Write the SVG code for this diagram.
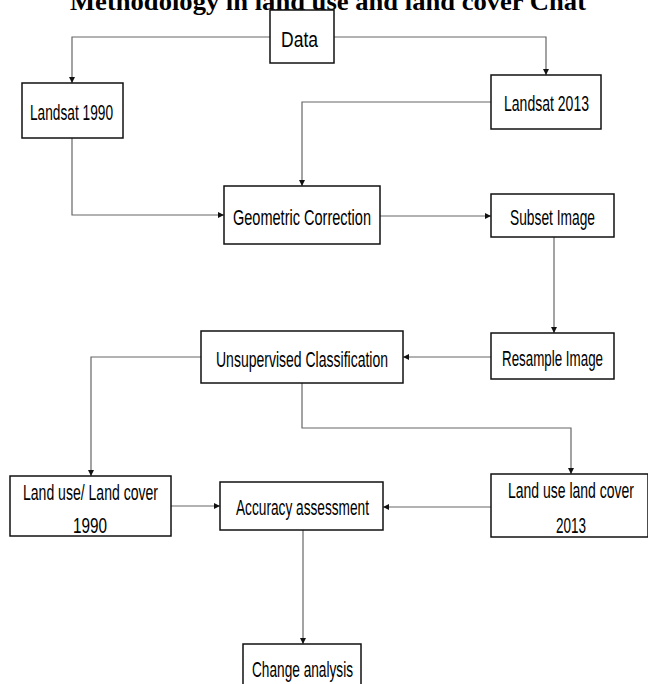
<svg xmlns="http://www.w3.org/2000/svg" width="648" height="684" viewBox="0 0 648 684">
<style>
.bg{fill:#fff}
.box{fill:#fff;stroke:#111;stroke-width:1.5}
.lbl{font-family:"Liberation Sans Narrow","Liberation Sans",Arial,sans-serif;font-size:22px;fill:#000}
.title{font-family:"Liberation Serif","Times New Roman",serif;font-size:26px;font-weight:bold;fill:#000}
.con{fill:none;stroke:#666;stroke-width:1.2;marker-end:url(#ah)}
</style>
<defs>
<marker id="ah" markerUnits="userSpaceOnUse" markerWidth="7" markerHeight="7" refX="6" refY="3" orient="auto">
<path d="M0,0 L6,3 L0,6 z" fill="#111"/>
</marker>
</defs>
<rect class="bg" x="0" y="0" width="648" height="684"/>
<text class="title" x="70" y="10" textLength="516" lengthAdjust="spacingAndGlyphs">Methodology in land use and land cover Chat</text>
<g id="connectors">
<path class="con" d="M270,37 H72 V83"/>
<path class="con" d="M334,37 H546 V75"/>
<path class="con" d="M72,138 V215 H224"/>
<path class="con" d="M491,102 H302 V186"/>
<path class="con" d="M380,216 H491"/>
<path class="con" d="M554,237 V333"/>
<path class="con" d="M491,357 H403"/>
<path class="con" d="M201,357 H91 V476"/>
<path class="con" d="M302,383 V428 H571 V474"/>
<path class="con" d="M171,506 H220"/>
<path class="con" d="M491,507 H383"/>
<path class="con" d="M303,530 V644"/>
</g>
<g id="data"><rect class="box" x="270" y="10" width="64" height="53"/><text class="lbl" x="281" y="47" textLength="37" lengthAdjust="spacingAndGlyphs">Data</text></g>
<g id="landsat1990"><rect class="box" x="22" y="83" width="101" height="55"/><text class="lbl" x="30" y="120" textLength="83" lengthAdjust="spacingAndGlyphs">Landsat 1990</text></g>
<g id="landsat2013"><rect class="box" x="491" y="75" width="110" height="54"/><text class="lbl" x="504" y="111" textLength="85" lengthAdjust="spacingAndGlyphs">Landsat 2013</text></g>
<g id="geometric"><rect class="box" x="224" y="186" width="156" height="58"/><text class="lbl" x="233" y="225" textLength="138" lengthAdjust="spacingAndGlyphs">Geometric Correction</text></g>
<g id="subset"><rect class="box" x="491" y="194" width="123" height="43"/><text class="lbl" x="510" y="225" textLength="85" lengthAdjust="spacingAndGlyphs">Subset Image</text></g>
<g id="resample"><rect class="box" x="491" y="333" width="123" height="46"/><text class="lbl" x="502" y="366" textLength="101" lengthAdjust="spacingAndGlyphs">Resample Image</text></g>
<g id="unsupervised"><rect class="box" x="201" y="331" width="202" height="52"/><text class="lbl" x="216" y="367" textLength="172" lengthAdjust="spacingAndGlyphs">Unsupervised Classification</text></g>
<g id="lulc1990"><rect class="box" x="10" y="476" width="161" height="60"/><text class="lbl" x="23" y="500" textLength="135" lengthAdjust="spacingAndGlyphs">Land use/ Land cover</text><text class="lbl" x="73" y="533" textLength="34" lengthAdjust="spacingAndGlyphs">1990</text></g>
<g id="accuracy"><rect class="box" x="220" y="482" width="163" height="48"/><text class="lbl" x="236" y="515" textLength="133" lengthAdjust="spacingAndGlyphs">Accuracy assessment</text></g>
<g id="lulc2013"><rect class="box" x="491" y="474" width="157" height="63"/><text class="lbl" x="508" y="498" textLength="126" lengthAdjust="spacingAndGlyphs">Land use land cover</text><text class="lbl" x="556" y="533" textLength="30" lengthAdjust="spacingAndGlyphs">2013</text></g>
<g id="change"><rect class="box" x="243" y="644" width="118" height="50"/><text class="lbl" x="252" y="677" textLength="101" lengthAdjust="spacingAndGlyphs">Change analysis</text></g>
</svg>
